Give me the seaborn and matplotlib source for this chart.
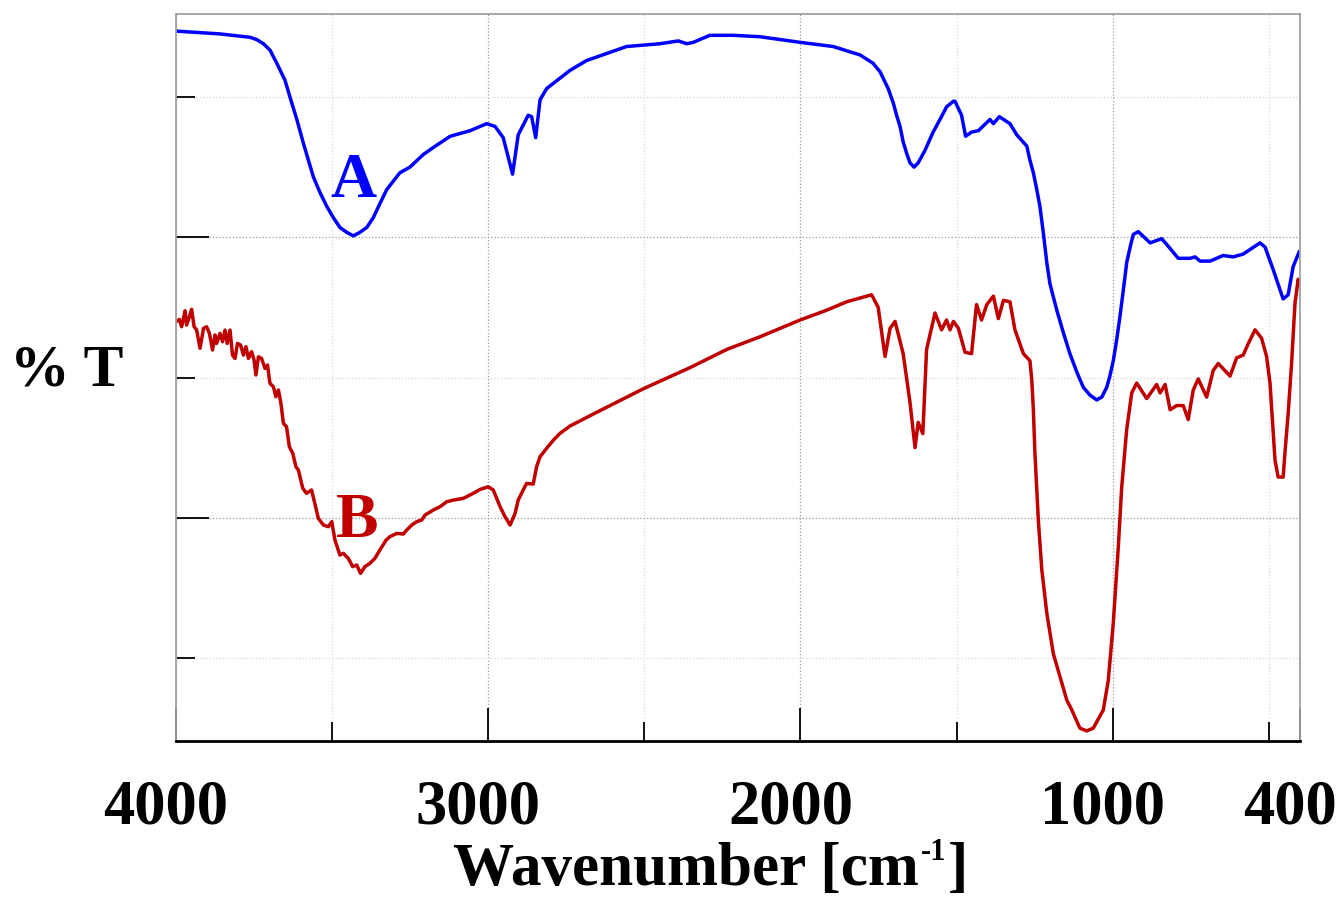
import matplotlib
matplotlib.use("Agg")
import matplotlib.pyplot as plt
import matplotlib.transforms as mtransforms
import seaborn as sns

# ---- data ----
wn_a = [4000, 3859, 3763, 3742, 3720, 3699, 3677, 3651, 3635, 3613,
        3592, 3576, 3560, 3539, 3517, 3496, 3475, 3453, 3432, 3411,
        3389, 3368, 3347, 3325, 3304, 3283, 3251, 3208, 3176, 3122,
        3058, 3005, 2978, 2952, 2922, 2904, 2872, 2861, 2848, 2834,
        2813, 2738, 2685, 2557, 2450, 2391, 2364, 2343, 2290, 2215,
        2130, 2001, 1895, 1809, 1767, 1745, 1719, 1703, 1692, 1681,
        1671, 1660, 1649, 1636, 1623, 1601, 1575, 1553, 1532, 1510,
        1505, 1484, 1471, 1452, 1430, 1393, 1382, 1363, 1329, 1307,
        1275, 1265, 1254, 1243, 1233, 1222, 1211, 1201, 1179, 1158,
        1137, 1115, 1094, 1073, 1051, 1035, 1019, 1009, 998, 987,
        977, 966, 955, 944, 934, 918, 880, 843, 816, 790,
        752, 736, 720, 688, 646, 614, 582, 528, 512, 486,
        454, 438, 422, 402]
t_a = [54.7, 54.5, 54.26, 54.1, 53.8, 53.35, 52.4, 51.2, 50.0, 48.4,
       46.7, 45.5, 44.3, 43.2, 42.2, 41.4, 40.7, 40.35, 40.1, 40.35,
       40.7, 41.4, 42.4, 43.4, 44.0, 44.6, 45.0, 45.9, 46.4, 47.2,
       47.6, 48.1, 47.9, 47.1, 44.5, 47.3, 48.7, 48.6, 47.1, 49.8,
       50.6, 51.9, 52.6, 53.6, 53.8, 54.0, 53.8, 53.9, 54.4, 54.4,
       54.3, 53.9, 53.6, 53.0, 52.4, 51.8, 50.6, 49.6, 48.7, 47.9,
       46.8, 46.0, 45.3, 45.0, 45.3, 46.2, 47.5, 48.4, 49.3, 49.7,
       49.7, 48.7, 47.2, 47.5, 47.6, 48.4, 48.1, 48.6, 48.1, 47.3,
       46.5, 45.5, 44.6, 43.4, 42.2, 40.3, 38.2, 36.7, 34.8, 33.2,
       31.7, 30.4, 29.3, 28.75, 28.4, 28.6, 29.3, 30.1, 31.2, 32.7,
       34.3, 36.2, 38.2, 39.3, 40.2, 40.4, 39.6, 39.9, 39.2, 38.5,
       38.5, 38.6, 38.3, 38.3, 38.7, 38.6, 38.8, 39.6, 39.3, 37.7,
       35.6, 35.9, 37.9, 39.0]

wn_b = [4000, 3989, 3982, 3977, 3971, 3966, 3957, 3950, 3942, 3934,
        3923, 3912, 3902, 3893, 3883, 3875, 3870, 3859, 3851, 3843,
        3836, 3827, 3819, 3811, 3803, 3793, 3784, 3776, 3768, 3758,
        3750, 3744, 3736, 3726, 3715, 3707, 3699, 3688, 3680, 3672,
        3664, 3656, 3646, 3637, 3626, 3616, 3608, 3594, 3582, 3566,
        3558, 3544, 3528, 3512, 3501, 3491, 3475, 3464, 3448, 3434,
        3421, 3409, 3395, 3379, 3363, 3347, 3327, 3315, 3293, 3272,
        3261, 3245, 3229, 3213, 3202, 3176, 3154, 3133, 3112, 3080,
        3048, 3026, 3000, 2984, 2962, 2946, 2930, 2914, 2904, 2888,
        2877, 2856, 2845, 2834, 2813, 2791, 2770, 2738, 2663, 2503,
        2354, 2236, 2130, 2001, 1916, 1852, 1772, 1751, 1729, 1713,
        1697, 1671, 1649, 1633, 1623, 1608, 1596, 1569, 1548, 1532,
        1521, 1510, 1494, 1473, 1452, 1436, 1420, 1403, 1382, 1366,
        1350, 1329, 1313, 1286, 1265, 1259, 1254, 1249, 1238, 1227,
        1211, 1190, 1169, 1147, 1131, 1105, 1083, 1062, 1030, 1014,
        998, 982, 971, 955, 939, 923, 891, 859, 848, 832,
        816, 795, 774, 758, 742, 726, 699, 678, 662, 624,
        603, 582, 566, 544, 523, 507, 496, 480, 470, 454,
        448, 438, 427, 416, 406, 402]
t_b = [33.98, 34.14, 33.62, 34.1, 34.76, 33.74, 34.34, 34.86, 33.62, 33.4,
       32.08, 33.5, 33.62, 33.15, 31.96, 33.03, 32.43, 33.15, 32.55, 33.38,
       32.43, 33.38, 31.6, 31.36, 32.43, 32.31, 31.6, 32.2, 31.36, 31.84,
       31.25, 30.18, 31.48, 31.36, 30.65, 30.89, 29.58, 29.34, 28.63, 29.11,
       28.16, 26.73, 26.49, 25.07, 24.59, 23.64, 23.4, 22.1, 21.74, 21.98,
       21.26, 19.95, 19.48, 19.36, 19.72, 18.41, 17.34, 17.46, 17.1, 16.51,
       16.63, 16.03, 16.51, 16.75, 17.1, 17.7, 18.41, 18.65, 18.88, 18.84,
       19.12, 19.48, 19.72, 19.84, 20.2, 20.55, 20.79, 21.14, 21.26, 21.38,
       21.74, 22.02, 22.21, 21.98, 20.79, 20.07, 19.48, 20.31, 21.26, 21.98,
       22.45, 22.4, 23.64, 24.35, 24.95, 25.54, 26.02, 26.54, 27.4, 29.2,
       30.7, 32.0, 32.9, 34.1, 34.8, 35.4, 35.9, 35.0, 31.5, 33.5,
       34.0, 31.7, 28.2, 25.0, 26.8, 26.0, 32.0, 34.6, 33.4, 34.1,
       33.4, 34.0, 33.5, 31.8, 31.7, 35.2, 34.1, 35.2, 35.8, 34.2,
       35.5, 35.4, 33.4, 31.7, 31.2, 29.8, 27.7, 24.6, 19.8, 16.3,
       13.2, 10.3, 8.7, 7.0, 6.3, 5.0, 4.8, 5.0, 6.3, 8.4,
       12.5, 17.9, 22.2, 26.3, 28.9, 29.6, 28.5, 29.5, 28.9, 29.5,
       27.7, 28.0, 28.0, 27.0, 29.1, 29.9, 28.6, 30.5, 31.0, 30.1,
       31.4, 31.6, 32.4, 33.4, 32.8, 31.5, 29.6, 24.1, 22.9, 22.9,
       24.7, 27.4, 31.0, 35.3, 37.0, 36.6]

x_ticks = [4000, 3000, 2000, 1000, 400]
x_tick_labels = ["4000", "3000", "2000", "1000", "400"]
x_minor = [3500, 2500, 1500, 500]
y_major = [20, 40]
y_minor = [10, 30, 50]

series_names = ["A", "B"]
series_colors = ["#0000FF", "#C00000"]

# ---- style ----
sns.set_theme(style="white")
plt.rcParams['font.family'] = ['Liberation Serif', 'DejaVu Serif']
plt.rcParams['font.weight'] = 'bold'
plt.rcParams['text.color'] = 'black'
plt.rcParams['xtick.color'] = 'black'
plt.rcParams['ytick.color'] = 'black'

fig = plt.figure(figsize=(13.4, 9), dpi=100)
ax = fig.add_axes([176 / 1340, 1 - 741 / 900, (1300 - 176) / 1340, (741 - 14) / 900])

sns.lineplot(x=wn_a, y=t_a, sort=False, estimator=None, color=series_colors[0], lw=2.5, ax=ax)
sns.lineplot(x=wn_b, y=t_b, sort=False, estimator=None, color=series_colors[1], lw=2.5, ax=ax)

ax.set_xlim(4000, 400)
ax.set_ylim(4.08, 55.92)

ax.set_xticks(x_ticks)
ax.set_xticklabels(x_tick_labels, fontsize=45, fontweight='bold', color='black')
ax.set_xticks(x_minor, minor=True)
ax.set_yticks(y_major)
ax.set_yticks(y_minor, minor=True)
ax.set_yticklabels([])

ax.tick_params(axis='x', which='major', direction='in', length=24, width=1.3, color='black',
               bottom=True, top=False, pad=27.5)
ax.tick_params(axis='x', which='minor', direction='in', length=14, width=1.3, color='black',
               bottom=True, top=False)
ax.tick_params(axis='y', which='major', direction='in', length=24, width=1.3, color='black',
               left=True, right=False, labelleft=False)
ax.tick_params(axis='y', which='minor', direction='in', length=14, width=1.3, color='black',
               left=True, right=False)

ax.grid(True, which='major', color='#9a9a9a', linestyle=':', linewidth=0.9)
ax.grid(True, which='minor', color='#d8d8d8', linestyle=':', linewidth=0.9)
ax.set_axisbelow(True)

for side in ['left', 'top', 'right']:
    ax.spines[side].set_color('#a0a0a0')
    ax.spines[side].set_linewidth(1.3)
ax.spines['bottom'].set_color('black')
ax.spines['bottom'].set_linewidth(2.0)

# tick labels sit slightly left of their ticks in the reference
shift = mtransforms.ScaledTranslation(-10 / 100, 0, fig.dpi_scale_trans)
for lbl in ax.get_xticklabels():
    lbl.set_transform(lbl.get_transform() + shift)

ax.set_xlabel("")
ax.set_ylabel("")

ax.text(3433, 42.87, series_names[0], color=series_colors[0], fontsize=46, fontweight='bold',
        ha='center', va='baseline')
ax.text(3420, 18.63, series_names[1], color=series_colors[1], fontsize=46, fontweight='bold',
        ha='center', va='baseline')

# x axis title built from pieces so the superscript uses a plain hyphen
t1 = fig.text(453 / 1340, 1 - 885 / 900, "Wavenumber [cm", fontsize=44, fontweight='bold',
              ha='left', va='baseline', color='black')
t2 = ax.annotate("-1", xy=(1, 1), xycoords=t1, xytext=(1.5, 3), textcoords='offset points',
                 fontsize=22, fontweight='bold', ha='left', va='top', color='black',
                 annotation_clip=False)
t3 = ax.annotate("]", xy=(1, 0), xycoords=(t2, t1), xytext=(1, 0), textcoords='offset points',
                 fontsize=44, fontweight='bold', ha='left', va='bottom', color='black',
                 annotation_clip=False)

fig.text(67 / 1340, 1 - 385 / 900, "% T", fontsize=43, fontweight='bold', ha='center',
         va='baseline', color='black')

fig.savefig("out.png", dpi=100)
